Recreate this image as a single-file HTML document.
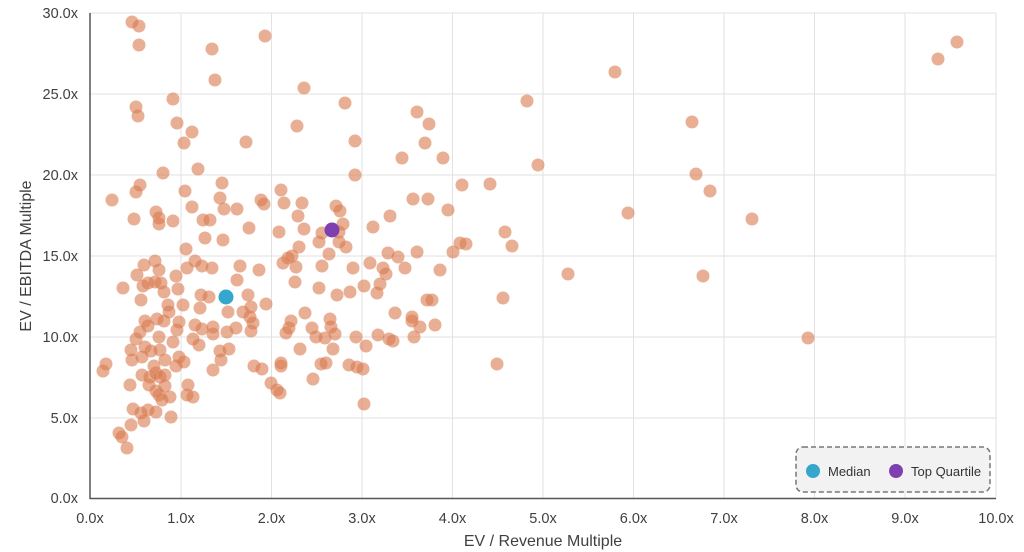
<!DOCTYPE html>
<html><head><meta charset="utf-8"><style>
html,body{margin:0;padding:0;background:#fff;}
svg{display:block;font-family:"Liberation Sans",sans-serif;}
</style></head><body>
<svg width="1024" height="552" viewBox="0 0 1024 552">
<g stroke="#e2e2e2" stroke-width="1">
<line x1="181" y1="13" x2="181" y2="498"/><line x1="271.5" y1="13" x2="271.5" y2="498"/><line x1="362" y1="13" x2="362" y2="498"/><line x1="452.5" y1="13" x2="452.5" y2="498"/><line x1="543" y1="13" x2="543" y2="498"/><line x1="633.5" y1="13" x2="633.5" y2="498"/><line x1="724" y1="13" x2="724" y2="498"/><line x1="814.5" y1="13" x2="814.5" y2="498"/><line x1="905" y1="13" x2="905" y2="498"/><line x1="996" y1="13" x2="996" y2="498"/>
<line x1="90" y1="13" x2="996" y2="13"/><line x1="90" y1="94" x2="996" y2="94"/><line x1="90" y1="175" x2="996" y2="175"/><line x1="90" y1="256" x2="996" y2="256"/><line x1="90" y1="337" x2="996" y2="337"/><line x1="90" y1="418" x2="996" y2="418"/>
</g>
<line x1="90" y1="13" x2="90" y2="499" stroke="#555" stroke-width="1.5"/>
<line x1="90" y1="498.5" x2="996" y2="498.5" stroke="#555" stroke-width="1.5"/>
<g fill="#d8794e" fill-opacity="0.6">
<circle cx="132" cy="22" r="6.5"/><circle cx="139" cy="26" r="6.5"/><circle cx="139" cy="45" r="6.5"/><circle cx="212" cy="49" r="6.5"/><circle cx="265" cy="36" r="6.5"/><circle cx="215" cy="80" r="6.5"/><circle cx="304" cy="88" r="6.5"/><circle cx="173" cy="99" r="6.5"/><circle cx="136" cy="107" r="6.5"/><circle cx="138" cy="116" r="6.5"/><circle cx="345" cy="103" r="6.5"/><circle cx="177" cy="123" r="6.5"/><circle cx="192" cy="132" r="6.5"/><circle cx="184" cy="143" r="6.5"/><circle cx="246" cy="142" r="6.5"/><circle cx="297" cy="126" r="6.5"/><circle cx="355" cy="141" r="6.5"/><circle cx="417" cy="112" r="6.5"/><circle cx="402" cy="158" r="6.5"/><circle cx="163" cy="173" r="6.5"/><circle cx="198" cy="169" r="6.5"/><circle cx="355" cy="175" r="6.5"/><circle cx="140" cy="185" r="6.5"/><circle cx="136" cy="192" r="6.5"/><circle cx="112" cy="200" r="6.5"/><circle cx="185" cy="191" r="6.5"/><circle cx="222" cy="183" r="6.5"/><circle cx="281" cy="190" r="6.5"/><circle cx="220" cy="198" r="6.5"/><circle cx="261" cy="200" r="6.5"/><circle cx="264" cy="204" r="6.5"/><circle cx="284" cy="203" r="6.5"/><circle cx="302" cy="203" r="6.5"/><circle cx="192" cy="207" r="6.5"/><circle cx="224" cy="209" r="6.5"/><circle cx="237" cy="209" r="6.5"/><circle cx="413" cy="199" r="6.5"/><circle cx="156" cy="212" r="6.5"/><circle cx="159" cy="218" r="6.5"/><circle cx="159" cy="224" r="6.5"/><circle cx="134" cy="219" r="6.5"/><circle cx="173" cy="221" r="6.5"/><circle cx="203" cy="220" r="6.5"/><circle cx="210" cy="220" r="6.5"/><circle cx="336" cy="206" r="6.5"/><circle cx="340" cy="211" r="6.5"/><circle cx="298" cy="216" r="6.5"/><circle cx="390" cy="216" r="6.5"/><circle cx="343" cy="224" r="6.5"/><circle cx="373" cy="227" r="6.5"/><circle cx="249" cy="228" r="6.5"/><circle cx="279" cy="232" r="6.5"/><circle cx="304" cy="229" r="6.5"/><circle cx="322" cy="233" r="6.5"/><circle cx="339" cy="232" r="6.5"/><circle cx="205" cy="238" r="6.5"/><circle cx="223" cy="240" r="6.5"/><circle cx="319" cy="242" r="6.5"/><circle cx="339" cy="242" r="6.5"/><circle cx="299" cy="247" r="6.5"/><circle cx="346" cy="247" r="6.5"/><circle cx="186" cy="249" r="6.5"/>
<circle cx="329" cy="254" r="6.5"/><circle cx="388" cy="253" r="6.5"/><circle cx="398" cy="257" r="6.5"/><circle cx="417" cy="252" r="6.5"/><circle cx="283" cy="263" r="6.5"/><circle cx="288" cy="258" r="6.5"/><circle cx="292" cy="256" r="6.5"/><circle cx="296" cy="267" r="6.5"/><circle cx="322" cy="266" r="6.5"/><circle cx="353" cy="268" r="6.5"/><circle cx="370" cy="263" r="6.5"/><circle cx="383" cy="268" r="6.5"/><circle cx="386" cy="274" r="6.5"/><circle cx="405" cy="268" r="6.5"/><circle cx="144" cy="265" r="6.5"/><circle cx="155" cy="261" r="6.5"/><circle cx="159" cy="270" r="6.5"/><circle cx="137" cy="275" r="6.5"/><circle cx="176" cy="276" r="6.5"/><circle cx="187" cy="268" r="6.5"/><circle cx="195" cy="261" r="6.5"/><circle cx="202" cy="266" r="6.5"/><circle cx="212" cy="268" r="6.5"/><circle cx="240" cy="266" r="6.5"/><circle cx="259" cy="270" r="6.5"/><circle cx="237" cy="280" r="6.5"/><circle cx="295" cy="282" r="6.5"/><circle cx="319" cy="288" r="6.5"/><circle cx="364" cy="286" r="6.5"/><circle cx="380" cy="284" r="6.5"/><circle cx="377" cy="293" r="6.5"/><circle cx="123" cy="288" r="6.5"/><circle cx="143" cy="286" r="6.5"/><circle cx="148" cy="283" r="6.5"/><circle cx="155" cy="282" r="6.5"/><circle cx="161" cy="283" r="6.5"/><circle cx="164" cy="292" r="6.5"/><circle cx="178" cy="289" r="6.5"/><circle cx="141" cy="300" r="6.5"/><circle cx="201" cy="295" r="6.5"/><circle cx="209" cy="297" r="6.5"/><circle cx="248" cy="295" r="6.5"/><circle cx="337" cy="295" r="6.5"/><circle cx="350" cy="292" r="6.5"/><circle cx="168" cy="305" r="6.5"/><circle cx="169" cy="312" r="6.5"/><circle cx="183" cy="305" r="6.5"/><circle cx="200" cy="308" r="6.5"/><circle cx="228" cy="312" r="6.5"/><circle cx="243" cy="312" r="6.5"/><circle cx="251" cy="307" r="6.5"/><circle cx="266" cy="304" r="6.5"/><circle cx="305" cy="313" r="6.5"/><circle cx="395" cy="313" r="6.5"/><circle cx="412" cy="317" r="6.5"/><circle cx="412" cy="321" r="6.5"/><circle cx="145" cy="321" r="6.5"/><circle cx="148" cy="326" r="6.5"/><circle cx="157" cy="319" r="6.5"/><circle cx="164" cy="321" r="6.5"/><circle cx="179" cy="322" r="6.5"/><circle cx="195" cy="325" r="6.5"/><circle cx="202" cy="329" r="6.5"/><circle cx="213" cy="327" r="6.5"/><circle cx="213" cy="334" r="6.5"/><circle cx="227" cy="332" r="6.5"/><circle cx="236" cy="328" r="6.5"/><circle cx="250" cy="317" r="6.5"/><circle cx="253" cy="323" r="6.5"/><circle cx="251" cy="331" r="6.5"/><circle cx="291" cy="321" r="6.5"/><circle cx="289" cy="328" r="6.5"/><circle cx="286" cy="333" r="6.5"/><circle cx="312" cy="328" r="6.5"/><circle cx="316" cy="337" r="6.5"/><circle cx="325" cy="338" r="6.5"/><circle cx="330" cy="319" r="6.5"/><circle cx="331" cy="327" r="6.5"/><circle cx="335" cy="334" r="6.5"/><circle cx="356" cy="337" r="6.5"/><circle cx="378" cy="335" r="6.5"/><circle cx="389" cy="339" r="6.5"/><circle cx="140" cy="332" r="6.5"/><circle cx="136" cy="339" r="6.5"/><circle cx="159" cy="337" r="6.5"/><circle cx="177" cy="330" r="6.5"/><circle cx="173" cy="342" r="6.5"/><circle cx="193" cy="339" r="6.5"/><circle cx="199" cy="345" r="6.5"/><circle cx="131" cy="350" r="6.5"/><circle cx="145" cy="347" r="6.5"/><circle cx="151" cy="351" r="6.5"/><circle cx="160" cy="350" r="6.5"/><circle cx="132" cy="360" r="6.5"/><circle cx="142" cy="357" r="6.5"/><circle cx="154" cy="366" r="6.5"/><circle cx="165" cy="360" r="6.5"/><circle cx="179" cy="357" r="6.5"/><circle cx="184" cy="362" r="6.5"/><circle cx="176" cy="366" r="6.5"/><circle cx="220" cy="351" r="6.5"/><circle cx="229" cy="349" r="6.5"/><circle cx="221" cy="360" r="6.5"/><circle cx="300" cy="349" r="6.5"/><circle cx="333" cy="349" r="6.5"/><circle cx="366" cy="346" r="6.5"/><circle cx="106" cy="364" r="6.5"/><circle cx="103" cy="371" r="6.5"/><circle cx="142" cy="375" r="6.5"/><circle cx="150" cy="377" r="6.5"/><circle cx="156" cy="373" r="6.5"/><circle cx="160" cy="377" r="6.5"/><circle cx="165" cy="375" r="6.5"/><circle cx="213" cy="370" r="6.5"/><circle cx="254" cy="366" r="6.5"/><circle cx="262" cy="369" r="6.5"/><circle cx="281" cy="363" r="6.5"/><circle cx="281" cy="366" r="6.5"/><circle cx="321" cy="364" r="6.5"/><circle cx="326" cy="363" r="6.5"/><circle cx="349" cy="365" r="6.5"/><circle cx="357" cy="367" r="6.5"/><circle cx="363" cy="369" r="6.5"/><circle cx="130" cy="385" r="6.5"/><circle cx="149" cy="385" r="6.5"/><circle cx="165" cy="386" r="6.5"/><circle cx="188" cy="385" r="6.5"/><circle cx="156" cy="391" r="6.5"/><circle cx="159" cy="395" r="6.5"/><circle cx="170" cy="397" r="6.5"/><circle cx="162" cy="400" r="6.5"/><circle cx="187" cy="395" r="6.5"/><circle cx="193" cy="397" r="6.5"/><circle cx="271" cy="383" r="6.5"/><circle cx="277" cy="390" r="6.5"/><circle cx="280" cy="393" r="6.5"/><circle cx="313" cy="379" r="6.5"/><circle cx="133" cy="409" r="6.5"/><circle cx="141" cy="413" r="6.5"/><circle cx="148" cy="410" r="6.5"/><circle cx="156" cy="412" r="6.5"/><circle cx="144" cy="421" r="6.5"/><circle cx="171" cy="417" r="6.5"/><circle cx="131" cy="425" r="6.5"/><circle cx="364" cy="404" r="6.5"/><circle cx="119" cy="433" r="6.5"/><circle cx="122" cy="437" r="6.5"/><circle cx="127" cy="448" r="6.5"/>
<circle cx="429" cy="124" r="6.5"/><circle cx="425" cy="143" r="6.5"/><circle cx="443" cy="158" r="6.5"/><circle cx="428" cy="199" r="6.5"/><circle cx="448" cy="210" r="6.5"/><circle cx="460" cy="243" r="6.5"/><circle cx="466" cy="244" r="6.5"/><circle cx="440" cy="270" r="6.5"/><circle cx="453" cy="252" r="6.5"/><circle cx="427" cy="300" r="6.5"/><circle cx="432" cy="300" r="6.5"/><circle cx="435" cy="325" r="6.5"/><circle cx="414" cy="337" r="6.5"/><circle cx="393" cy="341" r="6.5"/><circle cx="420" cy="327" r="6.5"/>
<circle cx="527" cy="101" r="6.5"/><circle cx="538" cy="165" r="6.5"/><circle cx="462" cy="185" r="6.5"/><circle cx="490" cy="184" r="6.5"/><circle cx="505" cy="232" r="6.5"/><circle cx="512" cy="246" r="6.5"/><circle cx="503" cy="298" r="6.5"/><circle cx="497" cy="364" r="6.5"/><circle cx="568" cy="274" r="6.5"/><circle cx="615" cy="72" r="6.5"/><circle cx="628" cy="213" r="6.5"/><circle cx="692" cy="122" r="6.5"/><circle cx="696" cy="174" r="6.5"/><circle cx="710" cy="191" r="6.5"/><circle cx="703" cy="276" r="6.5"/><circle cx="752" cy="219" r="6.5"/><circle cx="808" cy="338" r="6.5"/><circle cx="938" cy="59" r="6.5"/><circle cx="957" cy="42" r="6.5"/>
</g>
<circle cx="226" cy="297" r="7.5" fill="#35a6cc"/>
<circle cx="332" cy="230" r="7.5" fill="#7e3fb0"/>
<g font-size="14.5" fill="#404040" text-anchor="end">
<text x="78" y="18">30.0x</text><text x="78" y="99">25.0x</text><text x="78" y="180">20.0x</text><text x="78" y="261">15.0x</text><text x="78" y="342">10.0x</text><text x="78" y="423">5.0x</text><text x="78" y="503">0.0x</text>
</g>
<g font-size="14.5" fill="#404040" text-anchor="middle">
<text x="90" y="523">0.0x</text><text x="181" y="523">1.0x</text><text x="271.5" y="523">2.0x</text><text x="362" y="523">3.0x</text><text x="452.5" y="523">4.0x</text><text x="543" y="523">5.0x</text><text x="633.5" y="523">6.0x</text><text x="724" y="523">7.0x</text><text x="814.5" y="523">8.0x</text><text x="905" y="523">9.0x</text><text x="996" y="523">10.0x</text>
</g>
<text x="543" y="546" font-size="16" fill="#404040" text-anchor="middle">EV / Revenue Multiple</text>
<text transform="translate(31,256) rotate(-90)" font-size="16" fill="#404040" text-anchor="middle">EV / EBITDA Multiple</text>
<rect x="796" y="447" width="194" height="45" rx="7" fill="#f2f2f2" stroke="#777" stroke-width="1.5" stroke-dasharray="5,3"/>
<circle cx="813" cy="471" r="7" fill="#35a6cc"/>
<text x="828" y="476" font-size="13" fill="#333">Median</text>
<circle cx="896" cy="471" r="7" fill="#7e3fb0"/>
<text x="911" y="476" font-size="13" fill="#333">Top Quartile</text>
</svg>
</body></html>
